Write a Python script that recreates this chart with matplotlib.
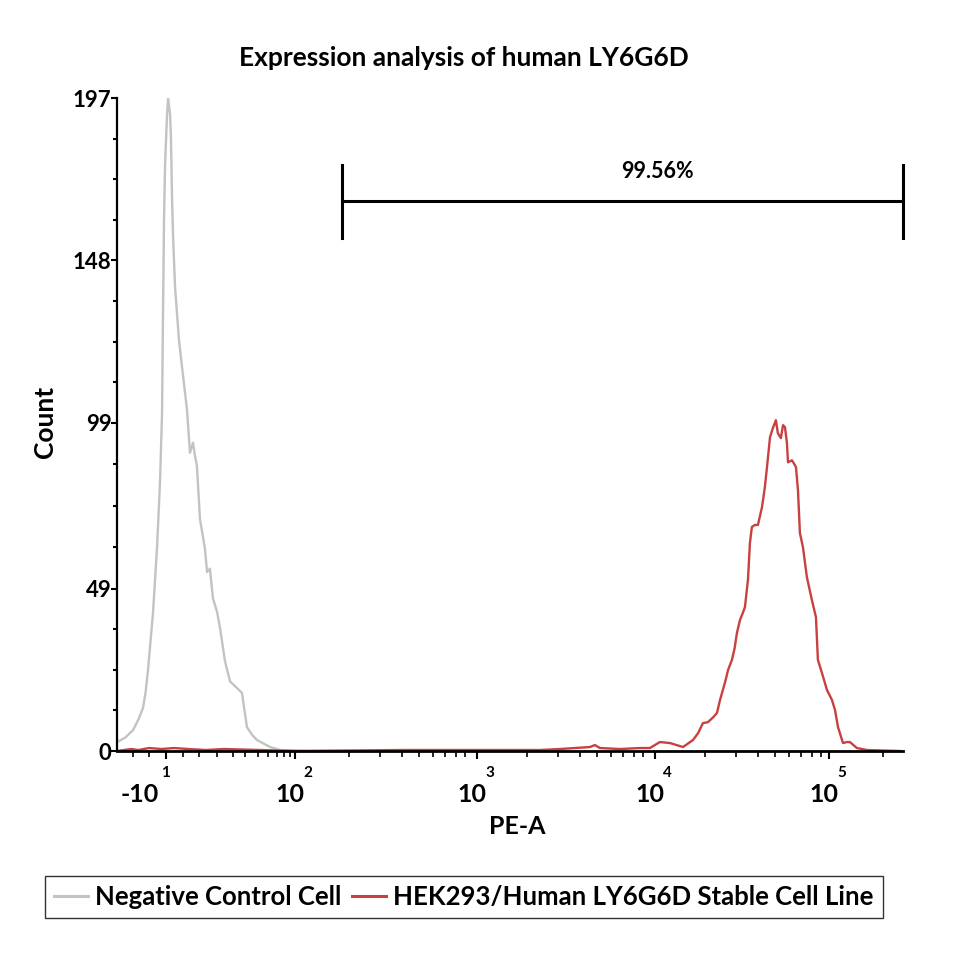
import matplotlib
matplotlib.use('Agg')
import matplotlib.pyplot as plt
from matplotlib.lines import Line2D
import numpy as np

# x is in axis "decade" units: 2 -> 10^2, 3 -> 10^3 ... (biexponential display)
neg_x = [1.000, 1.045, 1.090, 1.120, 1.146, 1.160, 1.174, 1.202, 1.225, 1.242, 1.253, 1.258,
         1.264, 1.270, 1.281, 1.287, 1.298, 1.303, 1.309, 1.315, 1.326, 1.337, 1.348, 1.365,
         1.393, 1.410, 1.427, 1.438, 1.449, 1.466, 1.494, 1.506, 1.522, 1.539, 1.562, 1.579,
         1.607, 1.635, 1.674, 1.702, 1.730, 1.760, 1.787, 1.860, 1.916, 2.100, 2.300]
neg_y = [2.7, 4.0, 6.3, 9.5, 13.0, 17.5, 24.4, 41.6, 61.5, 81.8, 102, 130,
         160, 177, 192, 197, 192, 185, 167, 155, 140, 132, 124, 116,
         103, 90, 93, 89, 86, 70, 61, 54, 55, 46, 42, 37,
         27, 21, 19, 17.5, 7.2, 4.8, 3.3, 1.2, 0.3, 0, 0]

pos_x = [1.000, 1.080, 1.120, 1.180, 1.250, 1.320, 1.400, 1.500, 1.600, 2.000, 2.600,
         3.376, 3.489, 3.657, 3.685, 3.713, 3.826, 3.938,
         3.994, 4.050, 4.107, 4.180, 4.236, 4.265, 4.292, 4.320, 4.350, 4.371, 4.388, 4.404,
         4.420, 4.433, 4.455, 4.470, 4.483, 4.500, 4.515, 4.528, 4.545, 4.556, 4.567, 4.584,
         4.601, 4.624, 4.640, 4.652, 4.669, 4.685, 4.702, 4.713, 4.730, 4.742, 4.753, 4.764,
         4.770, 4.792, 4.803, 4.815, 4.826, 4.837, 4.854, 4.876, 4.904, 4.927, 4.938, 4.961,
         4.989, 5.017, 5.034, 5.051, 5.079, 5.100, 5.118, 5.157, 5.213, 5.400]
pos_y = [0, 0.6, 0.3, 0.9, 0.6, 0.9, 0.6, 0.3, 0.6, 0, 0.3,
         0.3, 0.6, 1.2, 1.8, 0.9, 0.6, 0.9,
         0.9, 2.7, 2.4, 1.2, 3.3, 5.4, 8.4, 8.7, 10.2, 11.5, 15.4, 18.4,
         21.5, 24.4, 27.5, 31.0, 35.6, 39.5, 41.5, 43.4, 51.6, 62.7, 67.6, 68.2,
         68.2, 73.6, 79.6, 85.7, 94.7, 97.4, 99.8, 95.9, 94.4, 98.3, 97.7, 92.9,
         87.1, 87.7, 86.8, 85.6, 78.7, 65.7, 61.5, 52.5, 45.6, 40.4, 27.5, 23.5,
         18.4, 15.4, 12.4, 7.2, 2.4, 2.7, 2.7, 0.9, 0.3, 0]

x_major = [1.275, 2.0, 3.02, 4.02, 5.0]
x_base = ['-10', '10', '10', '10', '10']
x_exp = ['1', '2', '3', '4', '5']
x_minor = [1.09, 1.18, 1.37, 1.46, 1.56, 1.65, 1.72, 1.79, 1.85, 1.90, 1.94, 1.97]
y_ticks = [0, 49, 99, 148, 197]
gate = (2.264, 5.416, 165.9)
gate_label = '99.56%'

plt.rcParams['font.family'] = ['Lato', 'DejaVu Sans']
plt.rcParams['font.weight'] = 'bold'

fig = plt.figure(figsize=(9.6, 9.6), dpi=100)
ax = fig.add_axes([0.1219, 0.2177, 0.8187, 0.6802])

ax.plot(neg_x, neg_y, color='#c3c3c3', lw=1.7, label='Negative Control Cell')
ax.plot(pos_x, pos_y, color='#c8403f', lw=1.7, label='HEK293/Human LY6G6D Stable Cell Line')

ax.set_xlim(1.0, 5.416)
ax.set_ylim(0, 197)

# gate bar
g0, g1, gy = gate
ax.plot([g0, g1], [gy, gy], color='black', lw=2.2, clip_on=False)
ax.plot([g0, g0], [gy - 11, gy + 11], color='black', lw=2.2, clip_on=False)
ax.plot([g1, g1], [gy - 11, gy + 11], color='black', lw=2.2, clip_on=False)
ax.text(4.034, 174.7, gate_label, ha='center', va='center', fontsize=15.5, fontweight='bold')

for s in ['top', 'right']:
    ax.spines[s].set_visible(False)
ax.spines['left'].set_linewidth(1.6)
ax.spines['bottom'].set_linewidth(2.0)

ax.set_yticks(y_ticks)
ax.set_yticklabels([str(v) for v in y_ticks], fontsize=16, fontweight='bold')
ax.set_yticks([v + k * (y_ticks[i + 1] - v) / 4 for i, v in enumerate(y_ticks[:-1]) for k in (1, 2, 3)],
              minor=True)
ax.tick_params(axis='y', which='major', length=4, width=1.5, pad=0)
ax.tick_params(axis='y', which='minor', length=3, width=1.5)

minor_x = list(x_minor)
for d in (2, 3, 4, 5):
    for k in range(2, 10):
        p = d + np.log10(k)
        if p < 5.416:
            minor_x.append(p)
ax.set_xticks(x_major)
ax.set_xticklabels([''] * len(x_major))
ax.set_xticks(minor_x, minor=True)
ax.tick_params(axis='x', which='major', length=6, width=1.5)
ax.tick_params(axis='x', which='minor', length=4, width=1.2)

base_dx = [-26, -5, -5, -5, -5]
exp_dx = [0, 13, 13, 13, 13]
for xv, b, e, bdx, edx in zip(x_major, x_base, x_exp, base_dx, exp_dx):
    px = ax.transData.transform((xv, 0))[0]
    fig.text((px + bdx) / 960, 1 - 795 / 960, b, ha='center', va='center', fontsize=18, fontweight='bold')
    fig.text((px + edx) / 960, 1 - 773 / 960, e, ha='center', va='center', fontsize=11, fontweight='bold')

fig.text(517 / 960, 1 - 826 / 960, 'PE-A', ha='center', va='center', fontsize=18, fontweight='bold')
fig.text(45 / 960, 1 - 422 / 960, 'Count', ha='center', va='center', rotation=90, fontsize=19,
         fontweight='bold')
fig.text(464 / 960, 1 - 58 / 960, 'Expression analysis of human LY6G6D', ha='center', va='center',
         fontsize=19, fontweight='bold')

handles = [Line2D([], [], color='#c3c3c3', lw=2.2), Line2D([], [], color='#c8403f', lw=2.2)]
leg = fig.legend(handles, ['Negative Control Cell', 'HEK293/Human LY6G6D Stable Cell Line'],
                 loc='center', bbox_to_anchor=(464 / 960, 1 - 897 / 960), ncol=2, frameon=True,
                 fancybox=False, edgecolor='black', handlelength=1.3, handletextpad=0.3,
                 columnspacing=0.4, borderpad=0.35, prop={'size': 18.5, 'weight': 'bold'})
leg.get_frame().set_linewidth(1.0)

fig.savefig('out.png', dpi=100)
